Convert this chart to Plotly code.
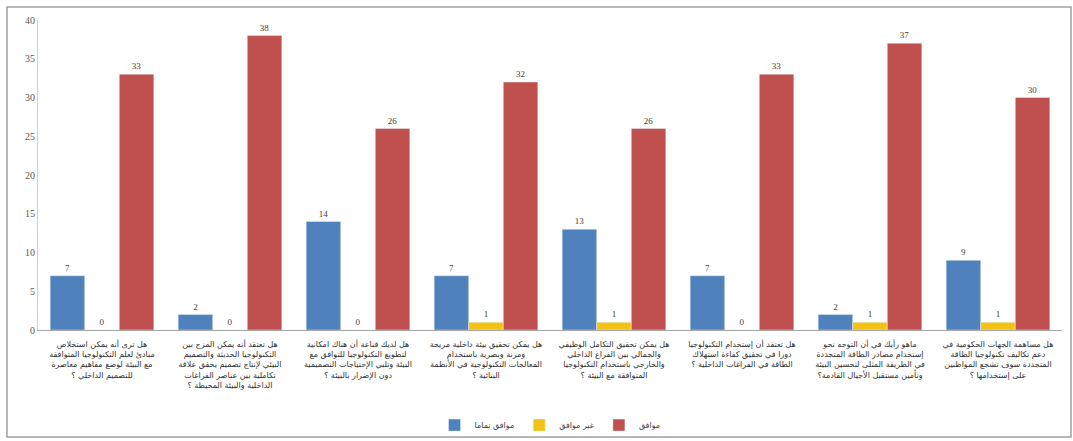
import plotly.graph_objects as go

categories = [
    "هل ترى أنه يمكن استخلاص<br>مبادئ لعلم التكنولوجيا المتوافقة<br>مع البيئة لوضع مفاهيم معاصرة<br>للتصميم الداخلي ؟",
    "هل تعتقد أنه يمكن المزج بين<br>التكنولوجيا الحديثة والتصميم<br>البيئي لإنتاج تصميم يحقق علاقة<br>تكاملية بين عناصر الفراغات<br>الداخلية والبيئة المحيطة ؟",
    "هل لديك قناعة أن هناك امكانية<br>لتطويع التكنولوجيا للتوافق مع<br>البيئة وتلبي الإحتياجات التصميمية<br>دون الإضرار بالبيئة ؟",
    "هل يمكن تحقيق بيئة داخلية مريحة<br>ومرنة وبصرية باستخدام<br>المعالجات التكنولوجية في الأنظمة<br>البنائية ؟",
    "هل يمكن تحقيق التكامل الوظيفي<br>والجمالي بين الفراغ الداخلي<br>والخارجي باستخدام التكنولوجيا<br>المتوافقة مع البيئة ؟",
    "هل تعتقد أن إستخدام التكنولوجيا<br>دورا في تحقيق كفاءة استهلاك<br>الطاقة في الفراغات الداخلية ؟",
    "ماهو رأيك في أن التوجه نحو<br>إستخدام مصادر الطاقة المتجددة<br>في الطريقة المثلى لتحسين البيئة<br>وتأمين مستقبل الأجيال القادمة؟",
    "هل مساهمة الجهات الحكومية في<br>دعم تكاليف تكنولوجيا الطاقة<br>المتجددة سوف تشجع المواطنين<br>على إستخدامها ؟",
]
series_names = ["موافق تماما", "غير موافق", "موافق"]
strongly_agree = [7, 2, 14, 7, 13, 7, 2, 9]
disagree = [0, 0, 0, 1, 1, 0, 1, 1]
agree = [33, 38, 26, 32, 26, 33, 37, 30]
colors = ["#4F81BD", "#F2C314", "#C0504D"]
y_ticks = [0, 5, 10, 15, 20, 25, 30, 35, 40]

fig = go.Figure()
for name, vals, col in zip(series_names, [strongly_agree, disagree, agree], colors):
    fig.add_trace(go.Bar(
        x=categories, y=vals, name=name, marker_color=col,
        text=vals, textposition="outside", cliponaxis=False,
        textfont=dict(size=9, color="#404040", family="Liberation Serif"),
    ))

W, H = 1073, 441
l, r, t, b = 38, 11, 20, 111
pw, ph = W - l - r, H - t - b

fig.update_layout(
    width=W, height=H,
    margin=dict(l=l, r=r, t=t, b=b, autoexpand=False),
    paper_bgcolor="white", plot_bgcolor="white",
    barmode="group", bargap=0.19, bargroupgap=0,
    showlegend=True,
    legend=dict(orientation="h", x=0.5, xanchor="center", y=-0.26, yanchor="top",
                bgcolor="rgba(0,0,0,0)",
                font=dict(size=8, family="DejaVu Sans", color="#404040"),
                itemwidth=30, tracegroupgap=0),
    xaxis=dict(showline=True, linecolor="#A6A6A6", linewidth=1, ticks="",
               tickfont=dict(size=8, family="DejaVu Sans", color="#303030"),
               tickangle=0, automargin=False, ticklabelstandoff=6),
    yaxis=dict(range=[0, 40], tickvals=y_ticks, showgrid=False, showline=True,
               linecolor="#D0D0D0", linewidth=1, zeroline=False, automargin=False,
               tickfont=dict(size=10, family="Liberation Serif", color="#595959")),
    shapes=[dict(type="rect", xref="paper", yref="paper", layer="below",
                 x0=(7 - l) / pw, x1=(W - 2 - l) / pw,
                 y0=-(437 - (H - b)) / ph, y1=1 + (t - 7) / ph,
                 line=dict(color="#A0A0A0", width=1.5))],
)

fig.write_html("out.html", config={"displayModeBar": False},
               post_script="document.body.style.margin='0';document.body.style.overflow='hidden';")
